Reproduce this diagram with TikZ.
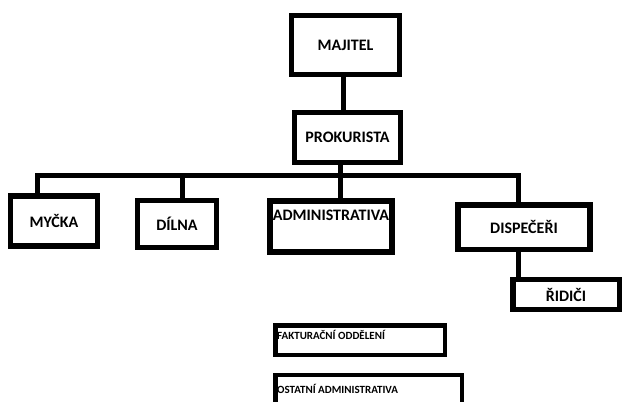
\documentclass[tikz,border=0pt]{standalone}
\usepackage{fontspec}
\setmainfont{Carlito}
\usepackage{tikz}
\usetikzlibrary{positioning}

\tikzset{
  unit/.style={draw, line width=5.5pt, inner sep=0pt, font=\bfseries\fontsize{16}{18}\selectfont},
  minor/.style={draw, line width=4.5pt, inner sep=0pt},
  link/.style={line width=5pt},
  tag/.style={inner sep=0pt, font=\bfseries\fontsize{11}{13}\selectfont},
}

\begin{document}
\begin{tikzpicture}[x=1pt,y=-1pt]
        \useasboundingbox (0,0) rectangle (622,402);
        \clip (0,0) rectangle (622,402);
        % boxes
        \node[unit, minimum width=108pt, minimum height=59pt] (majitel) at (345.5,45) {MAJITEL};
        \node[unit, minimum width=106pt, minimum height=50pt] (prokurista) at (347.5,137.5) {PROKURISTA};
        \node[unit, minimum width=87pt, minimum height=50pt] (mycka) at (54,221) {MYČKA};
        \node[unit, minimum width=79pt, minimum height=47pt] (dilna) at (177,224) {DÍLNA};
        \node[unit, minimum width=122pt, minimum height=51pt,
              label={[anchor=center, yshift=-17pt, inner sep=0pt, font=\bfseries\fontsize{16}{18}\selectfont]north:ADMINISTRATIVA}] (admin) at (331,226.5) {};
        \node[unit, minimum width=132pt, minimum height=44.5pt] (dispeceri) at (524,227) {DISPEČEŘI};
        \node[unit, minimum width=106.5pt, minimum height=30pt] (ridici) at (566,294.5) {ŘIDIČI};
        \node[minor, minimum width=169.5pt, minimum height=29.5pt,
              label={[tag, anchor=west, xshift=4pt, yshift=5pt]west:FAKTURAČNÍ ODDĚLENÍ}] (fakturace) at (360,340) {};
        \node[minor, minimum width=186.5pt, minimum height=40pt,
              label={[tag, anchor=west, xshift=4pt, yshift=6pt]west:OSTATNÍ ADMINISTRATIVA}] (ostatni) at (368.5,395) {};
        % connectors
        \coordinate (busL) at (37,175);
        \coordinate (busD) at (182,175);
        \coordinate (busR) at (518,175);
        \draw[link] (majitel.south -| 343,0) -- (prokurista.north -| 343,0);
        \draw[link] (prokurista.south -| 340,0) -- (admin.north -| 340,0);
        \draw[link] (busL |- mycka.north) -- (busL) -- (busR) -- (busR |- dispeceri.north);
        \draw[link] (busD) -- (busD |- dilna.north);
        \draw[link] (dispeceri.south -| busR) -- (ridici.north -| busR);
\end{tikzpicture}
\end{document}
